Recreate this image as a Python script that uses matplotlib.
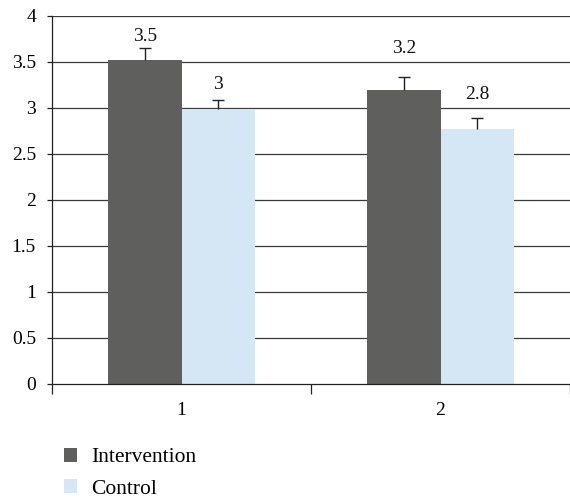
import matplotlib
matplotlib.use("Agg")
import matplotlib.pyplot as plt
import numpy as np
from matplotlib.patches import Patch

categories = ["1", "2"]
intervention = [3.52, 3.2]
control = [2.99, 2.77]
intervention_err = [0.13, 0.14]
control_err = [0.10, 0.12]
intervention_labels = ["3.5", "3.2"]
control_labels = ["3", "2.8"]
y_ticks = [0, 0.5, 1, 1.5, 2, 2.5, 3, 3.5, 4]
y_tick_labels = ["0", "0.5", "1", "1.5", "2", "2.5", "3", "3.5", "4"]

plt.rcParams['font.family'] = ['Liberation Serif', 'DejaVu Serif']

fig = plt.figure(figsize=(5.7, 5.0), dpi=100)
ax = fig.add_axes([52/570, 116/500, 518/570, 368/500])

x = np.arange(len(categories))
w = 0.283
c_int = '#5f5f5d'
c_ctl = '#d5e7f5'
cap = 0.023

ax.set_axisbelow(True)
for yv in y_ticks[1:]:
    ax.axhline(yv, color='#3a3a3a', lw=0.9, zorder=0)

ax.bar(x - w/2, intervention, w, color=c_int, zorder=2)
ax.bar(x + w/2, control, w, color=c_ctl, zorder=2)

for xs, vals, errs in [(x - w/2, intervention, intervention_err), (x + w/2, control, control_err)]:
    tops = np.array(vals) + np.array(errs)
    ax.vlines(xs, vals, tops, color='#222222', lw=1, zorder=3)
    ax.hlines(tops, xs - cap, xs + cap, color='#222222', lw=1, zorder=3)

int_pad = [12, 28]
ctl_pad = [15, 24]
for i in range(len(categories)):
    ax.annotate(intervention_labels[i], (x[i] - w/2, intervention[i] + intervention_err[i]),
                xytext=(0, int_pad[i] * 0.72), textcoords='offset points',
                ha='center', va='center', fontsize=14, color='#111111')
    ax.annotate(control_labels[i], (x[i] + w/2, control[i] + control_err[i]),
                xytext=(0, ctl_pad[i] * 0.72), textcoords='offset points',
                ha='center', va='center', fontsize=14, color='#111111')

ax.set_xlim(-0.5, -0.5 + 518/260)
ax.set_ylim(0, 4)
ax.set_yticks(y_ticks)
ax.set_yticklabels(y_tick_labels, fontsize=14)
ax.tick_params(axis='y', length=3.6, width=0.9, pad=8, color='#222222')

ax.set_xticks([-0.5, 0.5, 1.5])
ax.set_xticklabels([])
ax.set_xticks(x, minor=True)
ax.set_xticklabels(categories, minor=True, fontsize=14)
ax.tick_params(axis='x', which='major', length=7, width=0.9, color='#222222')
ax.tick_params(axis='x', which='minor', length=0, pad=13)

for s in ['top', 'right']:
    ax.spines[s].set_visible(False)
ax.spines['left'].set_color('#222222')
ax.spines['bottom'].set_color('#222222')
ax.spines['left'].set_linewidth(0.9)
ax.spines['bottom'].set_linewidth(0.9)

handles = [Patch(facecolor=c_int, label='Intervention'), Patch(facecolor=c_ctl, label='Control')]
fig.legend(handles=handles, loc='upper left', bbox_to_anchor=(64/570, 1 - 448/500),
           frameon=False, fontsize=15.5, handlelength=0.6, handleheight=0.6,
           handletextpad=0.65, labelspacing=0.55, borderpad=0, borderaxespad=0)

fig.savefig('out.png', dpi=100)
